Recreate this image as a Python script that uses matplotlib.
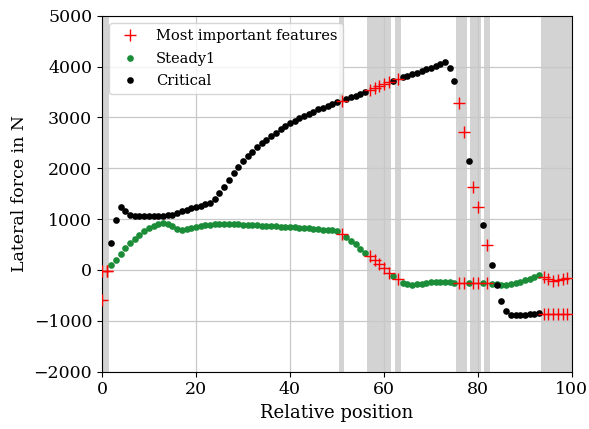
import numpy as np
import matplotlib
matplotlib.use('Agg')
import matplotlib.pyplot as plt

plt.rcParams['font.family'] = 'DejaVu Serif'
plt.rcParams['mathtext.fontset'] = 'dejavuserif'

# lateral force per relative position (0..99)
position = np.arange(100)

steady1 = [
    -30, -20, 90, 200, 320, 430, 525, 610, 695, 775,
    830, 870, 900, 915, 905, 860, 805, 790, 800, 820,
    840, 860, 875, 890, 900, 905, 905, 903, 900, 895,
    890, 885, 880, 875, 870, 865, 860, 855, 850, 845,
    840, 835, 830, 822, 815, 805, 798, 792, 788, 780,
    760, 700, 640, 575, 500, 420, 340, 275, 196, 124,
    46, -52, -118, -183, -249, -280, -292, -285, -270, -255,
    -240, -232, -235, -240, -245, -250, -255, -255, -250, -250,
    -255, -250, -255, -275, -285, -290, -290, -275, -255, -230,
    -205, -175, -140, -105, -144, -183, -211, -197, -171, -158,
]

critical = [
    -600, -30, 525, 985, 1245, 1165, 1080, 1060, 1058, 1058,
    1060, 1062, 1065, 1068, 1075, 1090, 1115, 1150, 1180, 1210,
    1240, 1265, 1290, 1320, 1390, 1510, 1630, 1770, 1905, 2035,
    2135, 2235, 2330, 2410, 2490, 2565, 2635, 2700, 2770, 2830,
    2890, 2940, 2990, 3035, 3075, 3115, 3160, 3195, 3230, 3262,
    3295, 3325, 3360, 3395, 3430, 3470, 3510, 3550, 3585, 3620,
    3655, 3690, 3725, 3755, 3790, 3820, 3850, 3880, 3910, 3945,
    3975, 4010, 4045, 4090, 3980, 3725, 3290, 2720, 2140, 1640,
    1245, 880, 490, 95, -300, -615, -800, -890, -895, -890,
    -880, -872, -865, -855, -870, -870, -875, -875, -875, -875,
]

# indices flagged as most important
features = [0, 1, 51, 57, 58, 59, 60, 61, 63, 76, 77, 79, 80, 82,
            94, 95, 96, 97, 98, 99]

steady1 = np.array(steady1)
critical = np.array(critical)
features = np.array(features)
rest = np.setdiff1d(position, features)

fig = plt.figure(figsize=(5.89, 4.29), dpi=100)
ax = fig.add_axes([0.173, 0.134, 0.798, 0.829])

# shade the feature regions, one band per run of neighbouring indices
runs = np.split(features, np.where(np.diff(features) > 1)[0] + 1)
for r in runs:
    hi = r[-1] + 0.6 if r[-1] < position[-1] else 101
    ax.axvspan(r[0] - 0.6, hi, color='#d3d3d3', lw=0, zorder=0)

ax.plot(position[features], steady1[features], '+', color='red', ms=8.5,
        mew=1.0, label='Most important features', zorder=4)
ax.plot(position[rest], steady1[rest], 'o', color='#1b8c38', ms=4.8, mew=0,
        label='Steady1', zorder=3)
ax.plot(position[rest], critical[rest], 'o', color='black', ms=4.8, mew=0,
        label='Critical', zorder=3)
ax.plot(position[features], critical[features], '+', color='red', ms=8.5,
        mew=1.0, zorder=4)

ax.set_xlim(0, 100)
ax.set_ylim(-2000, 5000)
ax.set_xticks(np.arange(0, 101, 20))
ax.set_yticks(np.arange(-2000, 5001, 1000))
ax.grid(True, color='#c8c8c8', lw=0.9, zorder=1)
ax.set_axisbelow(True)
ax.tick_params(labelsize=12.5)
ax.set_xlabel('Relative position', fontsize=13)
ax.set_ylabel('Lateral force in N', fontsize=12.5, labelpad=4)
ax.legend(loc='upper left', fontsize=10.5, labelspacing=0.6,
          handletextpad=0.8, borderaxespad=0.5, framealpha=0.8)

fig.savefig('out.png', dpi=100)
